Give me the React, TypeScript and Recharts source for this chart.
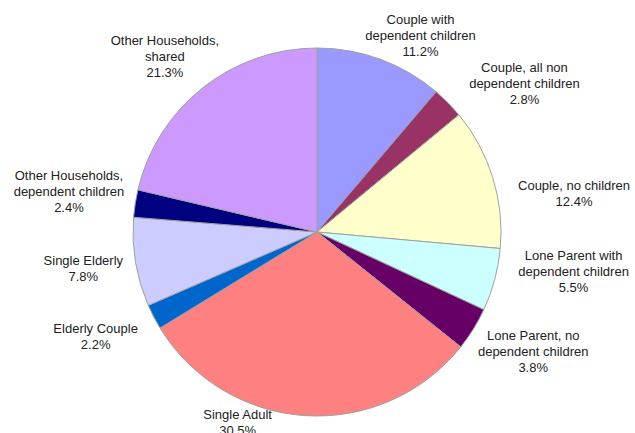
import React from 'react';
import { PieChart, Pie, Cell } from 'recharts';

const CATEGORIES = [
  'Couple with\ndependent children',
  'Couple, all non\ndependent children',
  'Couple, no children',
  'Lone Parent with\ndependent children',
  'Lone Parent, no\ndependent children',
  'Single Adult',
  'Elderly Couple',
  'Single Elderly',
  'Other Households,\ndependent children',
  'Other Households,\nshared',
];

const SHARES = [11.2, 2.8, 12.4, 5.5, 3.8, 30.5, 2.2, 7.8, 2.4, 21.3];

const COLORS = [
  '#9999ff', '#993366', '#ffffcc', '#ccffff', '#660066',
  '#ff8080', '#0066cc', '#ccccff', '#000080', '#cc99ff',
];

// Excel "best fit" nudges the labels around; offsets from a fixed radius
const LABEL_NUDGE: [number, number][] = [
  [19, 33], [33, 24], [23, 34], [20, -24], [8, -10],
  [-64, -54], [-4, -9], [8, -4], [-6, -3], [0, 17],
];

const RADIAN = Math.PI / 180;
const LABEL_RADIUS = 245;
const LINE_H = 16;

const data = SHARES.map((v, i) => ({ name: CATEGORIES[i], value: v }));

const renderLabel = (props: any) => {
  const { cx, cy, midAngle, index } = props;
  const x = cx + LABEL_RADIUS * Math.cos(-midAngle * RADIAN) + LABEL_NUDGE[index][0];
  const y = cy + LABEL_RADIUS * Math.sin(-midAngle * RADIAN) + LABEL_NUDGE[index][1];
  const lines = [...CATEGORIES[index].split('\n'), `${SHARES[index].toFixed(1)}%`];
  const top = y - ((lines.length - 1) * LINE_H) / 2;
  return (
    <text
      x={x}
      y={top}
      textAnchor="middle"
      fill="#222"
      fontSize={13}
      fontFamily="'Liberation Sans', Arial, sans-serif"
    >
      {lines.map((l, i) => (
        <tspan key={i} x={x} y={top + i * LINE_H} dominantBaseline="central">
          {l}
        </tspan>
      ))}
    </text>
  );
};

const App: React.FC = () => {
  return (
    <div style={{ position: 'absolute', left: 0, top: 0, width: 635, height: 433, background: '#fff' }}>
      <PieChart width={635} height={433} margin={{ top: 0, right: 0, bottom: 0, left: 0 }}>
        <Pie
          data={data}
          dataKey="value"
          cx={317}
          cy={232}
          outerRadius={184}
          startAngle={90}
          endAngle={-270}
          stroke="#a0a0a0"
          strokeWidth={1}
          label={renderLabel}
          labelLine={false}
          isAnimationActive={false}
        >
          {data.map((_, i) => (
            <Cell key={`cell-${i}`} fill={COLORS[i]} />
          ))}
        </Pie>
      </PieChart>
    </div>
  );
};

export default App;
